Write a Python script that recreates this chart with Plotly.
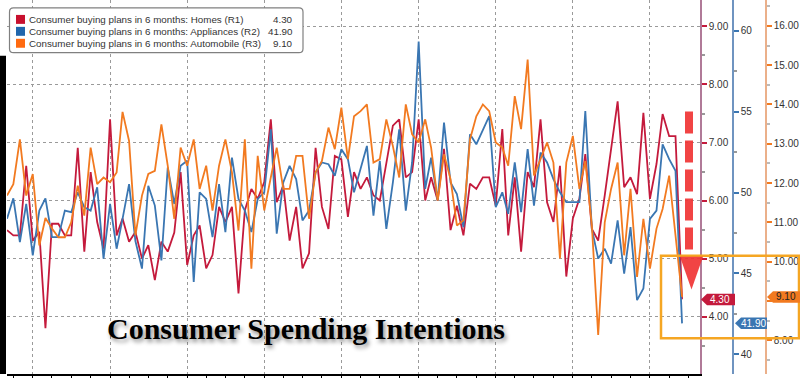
import plotly.graph_objects as go
import pandas as pd

# ---------------- data ----------------
months = pd.date_range("2011-09-01", periods=106, freq="MS")

homes = [5.49, 5.40, 5.40, 6.60, 5.31, 5.46, 3.80, 5.60, 5.60, 5.40, 5.40, 6.91, 5.12, 6.49, 5.63, 5.17,
         7.40, 5.40, 5.69, 5.29, 5.46, 5.00, 5.23, 4.63, 5.29, 5.12,
         5.45, 6.49, 4.89, 5.40, 5.57, 4.83, 5.06, 5.89, 5.63, 5.89, 4.40, 5.83, 6.20, 6.03, 6.32, 7.40,
         5.97, 6.26, 5.31, 5.89, 4.83, 5.09, 6.91, 5.89, 5.51, 6.77,
         6.71, 5.72, 6.49, 6.20, 6.40, 6.09, 6.00, 6.66, 7.29, 7.40, 6.40, 6.49, 7.40, 6.00, 6.40, 6.00,
         6.89, 5.49, 5.91, 5.40, 6.29, 6.20, 6.40, 6.40, 5.91, 7.23, 5.40,
         6.40, 5.12, 6.49, 6.23, 7.40, 5.97, 5.63, 6.60, 4.69, 5.69, 6.03, 6.80, 5.51, 5.31, 6.09, 6.89,
         7.71, 6.23, 6.40, 6.11, 7.51, 6.03, 6.63, 7.49, 7.11, 7.11, 4.30]

appliances = [48.37, 49.64, 46.93, 49.29, 46.11, 48.88, 49.64, 47.24, 47.24, 48.88, 48.78, 50.01, 49.09,
              48.88, 50.32, 45.91, 49.29, 46.52, 48.37, 50.52, 47.00, 45.29, 50.42, 49.19, 45.80, 51.55, 49.29,
              51.65, 51.96, 44.47, 50.01, 49.60, 47.24, 50.52, 47.55, 52.16, 49.60, 48.88, 47.55, 49.60,
              50.01, 53.91, 47.45, 50.62, 51.65, 50.83, 48.27, 48.88, 51.24, 51.86, 51.75, 51.04,
              52.68, 52.06, 50.01, 51.45, 52.88, 48.57, 51.96, 47.75, 50.62, 53.91, 48.88, 51.86, 59.34,
              50.22, 52.16, 49.50, 54.32, 50.62, 49.91, 47.86, 53.60, 52.98, 53.91, 54.73, 49.09, 50.01, 48.68,
              51.86, 48.78, 52.68, 49.19, 52.47, 51.86, 50.83, 50.01, 49.40, 49.40, 49.40, 55.04, 47.75,
              45.91, 46.52, 45.60, 48.27, 44.98, 47.86, 43.34, 44.06, 48.37, 48.88, 52.98, 52.06, 51.34, 41.90]

automobile = [11.68, 11.97, 13.11, 11.68, 12.23, 10.41, 11.11, 10.84, 10.62, 10.62, 11.00, 11.93, 11.17,
              12.90, 11.97, 12.14, 12.02, 12.27, 13.81, 13.07, 10.67, 11.68, 12.23, 12.31, 13.49, 12.44, 11.09,
              12.90, 12.44, 13.11, 11.85, 12.44, 11.30, 12.44, 13.11, 12.27, 10.79, 13.11, 9.82, 12.69,
              11.30, 12.19, 12.90, 11.85, 11.85, 12.69, 12.69, 11.09, 12.27, 12.56, 13.41, 12.86,
              13.92, 12.61, 13.70, 13.83, 14.00, 12.52, 12.61, 13.62, 12.94, 12.14, 14.00, 13.24, 13.03,
              13.62, 12.90, 11.55, 12.73, 12.10, 10.92, 11.05, 13.11, 13.70, 14.00, 13.83, 13.03, 12.90, 12.44,
              14.21, 13.37, 15.14, 12.19, 12.61, 13.03, 12.52, 10.08, 12.52, 13.20, 11.85, 12.56, 10.92,
              8.13, 11.00, 11.85, 12.52, 10.16, 11.85, 9.61, 11.09, 9.82, 10.84, 11.34, 12.19, 10.67, 9.10]

series_names = ["Consumer buying plans in 6 months: Homes (R1)",
                "Consumer buying plans in 6 months: Appliances (R2)",
                "Consumer buying plans in 6 months: Automobile (R3)"]
last_labels = ["4.30", "41.90", "9.10"]
title_text = "Consumer Spending Intentions"

r1_ticks = [4, 5, 6, 7, 8, 9]
r2_ticks = [40, 45, 50, 55, 60]
r3_ticks = [8, 9, 10, 11, 12, 13, 14, 15, 16]
# the 9.00 label on R3 sits hidden behind the last-value tag in the original
r3_ticktext = ["8.00", "", "10.00", "11.00", "12.00", "13.00", "14.00", "15.00", "16.00"]

# ---------------- styling / geometry ----------------
W, H = 800, 378
L, PW, PH = 7, 793, 376
RED, BLUE, ORANGE = "#c41a3c", "#3a76b2", "#f27a20"


def px(x):
    return (x - L) / PW


def py(y):
    return 1 - y / PH


fig = go.Figure()
fig.add_trace(go.Scatter(x=months, y=homes, mode="lines", yaxis="y",
                         line=dict(color=RED, width=1.8), name=series_names[0]))
fig.add_trace(go.Scatter(x=months, y=appliances, mode="lines", yaxis="y2",
                         line=dict(color=BLUE, width=1.8), name=series_names[1]))
fig.add_trace(go.Scatter(x=months, y=automobile, mode="lines", yaxis="y3",
                         line=dict(color=ORANGE, width=1.8), name=series_names[2]))

tickfont = dict(family="Liberation Sans", size=10, color="#333")

fig.update_layout(
    width=W, height=H, margin=dict(l=L, r=0, t=0, b=2),
    paper_bgcolor="white", plot_bgcolor="white", showlegend=False,
    xaxis=dict(domain=[0, px(700)], type="date", range=["2011-09-01", "2020-08-25"],
               showgrid=True, gridcolor="#9a9a9a", griddash="dot", gridwidth=1,
               dtick="M12", tick0="2012-01-01", showticklabels=False,
               ticks="outside", ticklen=4, tickcolor="black",
               showline=True, linecolor="black", linewidth=2, zeroline=False,
               minor=dict(dtick="M3", tick0="2011-10-01", ticks="outside", ticklen=3,
                          tickcolor="black", showgrid=False)),
    yaxis=dict(side="right", range=[3.011, 9.456], tickvals=r1_ticks,
               ticktext=[f"{v:.2f}" for v in r1_ticks],
               showgrid=True, gridcolor="#9a9a9a", griddash="dot", gridwidth=1,
               ticks="outside", ticklen=5, tickwidth=2, tickcolor=RED,
               showline=True, linecolor="#b07a98", linewidth=1.5, zeroline=False,
               tickfont=tickfont,
               minor=dict(dtick=0.5, tick0=0, ticks="outside", ticklen=3, tickcolor="#999",
                          showgrid=False)),
    yaxis2=dict(overlaying="y", side="right", anchor="free", position=px(733),
                range=[38.77, 61.91], tickvals=r2_ticks, ticktext=[str(v) for v in r2_ticks],
                showgrid=False,
                ticks="outside", ticklen=5, tickwidth=2, tickcolor=BLUE,
                showline=True, linecolor="#6f94c0", linewidth=1.5, zeroline=False,
                tickfont=tickfont,
                minor=dict(dtick=2.5, tick0=0, ticks="outside", ticklen=3, tickcolor="#999",
                           showgrid=False)),
    yaxis3=dict(overlaying="y", side="right", anchor="free", position=px(766),
                range=[7.139, 16.658], tickvals=r3_ticks, ticktext=r3_ticktext, showgrid=False,
                ticks="outside", ticklen=5, tickwidth=2, tickcolor=ORANGE,
                showline=True, linecolor="#ebb08a", linewidth=1.5, zeroline=False,
                tickfont=tickfont,
                minor=dict(dtick=0.5, tick0=0, ticks="outside", ticklen=3, tickcolor="#bbb",
                           showgrid=False)),
)

shapes = []
annotations = []

# left dark border
shapes.append(dict(type="rect", xref="paper", yref="paper", x0=px(0), x1=px(6), y0=py(376), y1=py(56),
                   fillcolor="black", line=dict(width=0), layer="above"))

# legend box (rounded)
x0, x1, y0, y1, r = 9.5, 303, 8, 53, 4
path = (f"M {px(x0 + r)} {py(y0)} L {px(x1 - r)} {py(y0)} Q {px(x1)} {py(y0)} {px(x1)} {py(y0 + r)} "
        f"L {px(x1)} {py(y1 - r)} Q {px(x1)} {py(y1)} {px(x1 - r)} {py(y1)} "
        f"L {px(x0 + r)} {py(y1)} Q {px(x0)} {py(y1)} {px(x0)} {py(y1 - r)} "
        f"L {px(x0)} {py(y0 + r)} Q {px(x0)} {py(y0)} {px(x0 + r)} {py(y0)} Z")
shapes.append(dict(type="path", xref="paper", yref="paper", path=path, fillcolor="white",
                   line=dict(color="#808080", width=1.2), layer="above"))
rows = [19.5, 31.5, 43.5]
sq_colors = ["#c8102e", "#2166ac", "#ff6a10"]
for i in range(3):
    yc = rows[i]
    shapes.append(dict(type="rect", xref="paper", yref="paper", x0=px(16), x1=px(25),
                       y0=py(yc + 4.5), y1=py(yc - 4.5), fillcolor=sq_colors[i],
                       line=dict(width=0), layer="above"))
    annotations.append(dict(xref="paper", yref="paper", x=px(27), y=py(yc), xanchor="left",
                            yanchor="middle", text=series_names[i], showarrow=False,
                            font=dict(family="Liberation Sans", size=9.8, color="#333")))
    annotations.append(dict(xref="paper", yref="paper", x=px(295), y=py(yc), xanchor="right",
                            yanchor="middle", text=last_labels[i], showarrow=False,
                            font=dict(family="Liberation Sans", size=9.8, color="#333")))

# title
annotations.append(dict(xref="paper", yref="paper", x=px(306), y=py(330), xanchor="center",
                        yanchor="middle", text="<b>" + title_text + "</b>", showarrow=False,
                        font=dict(family="Liberation Serif", size=30, color="black",
                                  shadow="2px 3px 4px rgba(0,0,0,0.45)")))

# highlight box
shapes.append(dict(type="rect", xref="paper", yref="paper", x0=px(661), x1=px(799), y0=py(340),
                   y1=py(257), line=dict(color="#f5a623", width=2.5), fillcolor="rgba(0,0,0,0)",
                   layer="above"))

# dashed red arrow
ARW = "rgba(240,52,52,0.92)"
shapes.append(dict(type="line", xref="paper", yref="paper", x0=px(689), x1=px(689), y0=py(112),
                   y1=py(252), line=dict(color=ARW, width=8, dash="22px,7px"), layer="above"))
shapes.append(dict(type="path", xref="paper", yref="paper",
                   path=f"M {px(680)} {py(258)} L {px(703)} {py(258)} L {px(691.5)} {py(291)} Z",
                   fillcolor=ARW, line=dict(width=0), layer="above"))

# value tags
tags = [(701, 301, 707, 735, RED, "white"), (735, 325, 741, 767, BLUE, "white"),
        (767, 298.5, 773, 800, ORANGE, "#222")]
for i, (tip, yc, bl, br, col, tcol) in enumerate(tags):
    h = 5.8
    p = (f"M {px(tip)} {py(yc)} L {px(bl)} {py(yc - h)} L {px(br)} {py(yc - h)} "
         f"L {px(br)} {py(yc + h)} L {px(bl)} {py(yc + h)} Z")
    shapes.append(dict(type="path", xref="paper", yref="paper", path=p, fillcolor=col,
                       line=dict(width=0), layer="above"))
    annotations.append(dict(xref="paper", yref="paper", x=px((bl + br) / 2 - 1), y=py(yc),
                            xanchor="center", yanchor="middle", text=last_labels[i], showarrow=False,
                            font=dict(family="Liberation Sans", size=10, color=tcol)))

fig.update_layout(shapes=shapes, annotations=annotations)
fig.write_html("out.html")
